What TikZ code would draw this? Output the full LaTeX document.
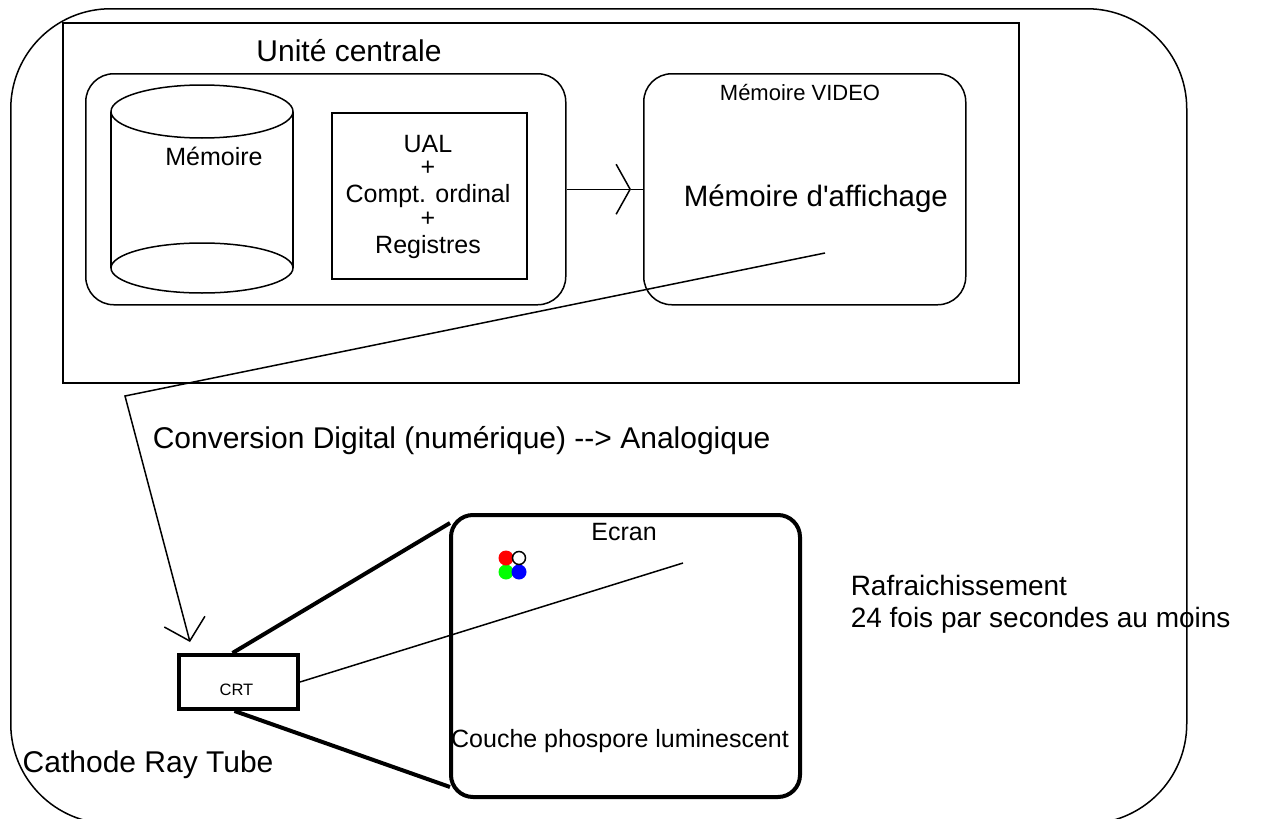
\documentclass[tikz,border=0pt]{standalone}
\usepackage{fontspec}
\setmainfont{Liberation Sans}[Ligatures=TeXOff]
\usetikzlibrary{arrows.meta}
\newcommand\fsXL{\fontsize{30}{36}\selectfont}
\newcommand\fsXLb{\fontsize{29.5}{35}\selectfont}
\newcommand\fsL{\fontsize{28}{34}\selectfont}
\newcommand\fsM{\fontsize{25}{30}\selectfont}
\newcommand\fsS{\fontsize{22}{26}\selectfont}
\newcommand\fsXS{\fontsize{16.5}{20}\selectfont}
\definecolor{dotred}{RGB}{255,0,0}
\definecolor{dotgreen}{RGB}{0,255,0}
\definecolor{dotblue}{RGB}{0,0,255}
\begin{document}
\begin{tikzpicture}[x=1pt,y=-1pt,line width=1.5pt,
  box/.style={draw,line width=1.5pt,inner sep=0pt,anchor=north west},
  thickbox/.style={box,line width=4pt},
  lbl/.style={inner sep=0pt,anchor=base},
  lblw/.style={inner sep=0pt,anchor=base west},
  thick line/.style={line width=4pt}]
\useasboundingbox (0,0) rectangle (1270,819);
% frames
\node[box,rounded corners=100pt,minimum width=1176pt,minimum height=815pt] (outer) at (10,8) {};
\node[box,minimum width=956pt,minimum height=360pt] (cpu) at (62,22) {};
\node[box,rounded corners=28pt,minimum width=480pt,minimum height=231pt] (uc) at (85,73) {};
\node[box,minimum width=195pt,minimum height=166pt] (ual) at (331,112) {};
\node[box,rounded corners=28pt,minimum width=322pt,minimum height=231pt] (video) at (643,73) {};
\node[thickbox,minimum width=119pt,minimum height=54pt] (crt) at (177,653) {};
\node[thickbox,rounded corners=22pt,minimum width=349pt,minimum height=282pt] (screen) at (449,513) {};
% cylinder (Memoire)
\draw (111,111.5) -- (111,268) (293,111.5) -- (293,268);
\draw (202,111.5) ellipse [x radius=91pt,y radius=26.5pt];
\draw (202,268) ellipse [x radius=91pt,y radius=25pt];
% arrow UC -> video
\draw[-{Straight Barb[length=14pt,width=50pt]}] (uc.east) -- ([xshift=-12pt]video.west);
\draw ([xshift=-12pt]video.west) -- (video.west);
% scan line to CRT
\coordinate (scan) at (825,253);
\coordinate (bend) at (125,396);
\coordinate (gun) at (190,642);
\draw[-{Straight Barb[length=20pt,width=42pt]}] (scan) -- (bend) -- (gun);
% CRT cone
\draw[thick line] ([xshift=-6pt]crt.north) -- ([shift={(1pt,-10pt)}]screen.north west);
\draw[thick line] ([xshift=-4pt]crt.south) -- ([shift={(1pt,12pt)}]screen.south west);
\coordinate (spot) at (683,563);
\draw (crt.east) -- (spot);
% RGB dots
\fill[dotgreen] (506,572) circle [radius=7.5pt];
\fill[dotred] (506,558) circle [radius=7.5pt];
\fill[dotblue] (519,572) circle [radius=7.5pt];
\filldraw[fill=white,draw=black,line width=1.5pt] (519,558) circle [radius=6.5pt];
% texts
\node[lbl,font=\fsXL] (uctitle) at (349,61) {Unité centrale};
\node[lbl,font=\fsM] (memlbl) at (214,165) {Mémoire};
\node[lbl,font=\fsM] (ual1) at (428,152) {UAL};
\node[lbl,font=\fsM] (ual2) at (428,175) {+};
\node[lbl,font=\fsM] (ual3) at (428,202) {Compt. ordinal};
\node[lbl,font=\fsM] (ual4) at (428,226) {+};
\node[lbl,font=\fsM] (ual5) at (428,253) {Registres};
\node[lbl,font=\fsS] (vidtitle) at (800,100) {Mémoire VIDEO};
\node[lblw,font=\fsXLb] (vidtext) at (683,206) {Mémoire d'affichage};
\node[lblw,font=\fsXL] (conv) at (152,448) {Conversion Digital (numérique) --> Analogique};
\node[lblw,font=\fsL] (rafr) at (850,595) {Rafraichissement};
\node[lblw,font=\fsL] (freq) at (850,627) {24 fois par secondes au moins};
\node[lblw,font=\fsXL] (cath) at (22,772) {Cathode Ray Tube};
\node[lbl,font=\fsM] (ecran) at (624,540) {Ecran};
\node[lbl,font=\fsM] (couche) at (620,747) {Couche phospore luminescent};
\node[lbl,font=\fsXS] (crtlbl) at (236.5,695) {CRT};
\end{tikzpicture}
\end{document}
